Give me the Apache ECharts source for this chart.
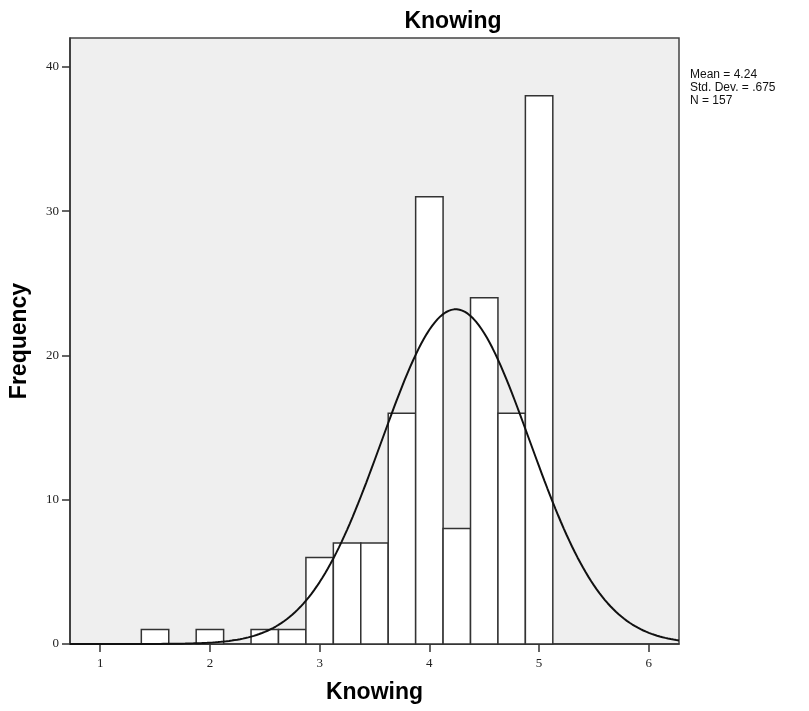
<!DOCTYPE html>
<html>
<head>
<meta charset="utf-8">
<script src="https://cdn.jsdelivr.net/npm/echarts@6/dist/echarts.min.js"></script>
<style>
  html, body { margin: 0; padding: 0; background: #fff; }
  #chart { width: 809px; height: 711px; }
</style>
</head>
<body>
<div id="chart"></div>
<script>
// histogram bins (centres) and their counts
const binCenters = [1.5, 2.0, 2.5, 2.75, 3.0, 3.25, 3.5, 3.75, 4.0, 4.25, 4.5, 4.75, 5.0];
const counts = [1, 1, 1, 1, 6, 7, 7, 16, 31, 8, 24, 16, 38];
const binWidth = 0.25;

// stats shown at the right
const mean = 4.24;
const sd = 0.675;
const n = 157;

const xTicks = [1, 2, 3, 4, 5, 6];
const yTicks = [0, 10, 20, 30, 40];

// fitted normal curve, scaled to frequency
const xMin = 0.725, xMax = 6.275;
const curve = [];
for (let x = xMin; x <= xMax + 1e-9; x += 0.025) {
  const z = (x - mean) / sd;
  curve.push([x, n * binWidth * Math.exp(-0.5 * z * z) / (sd * Math.sqrt(2 * Math.PI))]);
}

const chart = echarts.init(document.getElementById('chart'));
const labelFont = { color: '#222', fontSize: 13, fontFamily: 'Liberation Serif, serif' };
const nameFont = { color: '#000', fontSize: 23, fontWeight: 'bold', fontFamily: 'Liberation Sans, Arial, sans-serif' };

const option = {
  animation: false,
  title: {
    text: 'Knowing',
    left: 448,
    top: 5,
    textAlign: 'center',
    textStyle: nameFont
  },
  grid: {
    left: 69, right: 130, top: 38, bottom: 67,
    show: true,
    backgroundColor: '#efefef',
    borderColor: '#444',
    borderWidth: 1.5
  },
  xAxis: {
    type: 'value',
    min: xMin,
    max: xMax,
    name: 'Knowing',
    nameLocation: 'middle',
    nameGap: 37,
    nameTextStyle: nameFont,
    splitLine: { show: false },
    axisLine: { lineStyle: { color: '#333', width: 1.5 } },
    axisTick: { customValues: xTicks, length: 8, lineStyle: { color: '#333', width: 1.5 } },
    axisLabel: { customValues: xTicks, margin: 13, ...labelFont }
  },
  yAxis: {
    type: 'value',
    min: 0,
    max: 42,
    name: 'Frequency',
    nameLocation: 'middle',
    nameGap: 39,
    nameTextStyle: nameFont,
    splitLine: { show: false },
    axisLine: { show: true, lineStyle: { color: '#333', width: 1.5 } },
    axisTick: { show: true, customValues: yTicks, length: 8, lineStyle: { color: '#333', width: 1.5 } },
    axisLabel: { customValues: yTicks, margin: 11, ...labelFont }
  },
  graphic: [{
    type: 'text',
    left: 690,
    top: 68,
    style: {
      text: 'Mean = 4.24\nStd. Dev. = .675\nN = 157',
      font: '12px "Liberation Sans", Arial, sans-serif',
      lineHeight: 13,
      fill: '#111'
    }
  }],
  series: [
    {
      type: 'custom',
      data: binCenters.map((c, i) => [c, counts[i]]),
      renderItem: function (params, api) {
        const c = api.value(0);
        const topLeft = api.coord([c - binWidth / 2, api.value(1)]);
        const bottomRight = api.coord([c + binWidth / 2, 0]);
        return {
          type: 'rect',
          shape: {
            x: topLeft[0], y: topLeft[1],
            width: bottomRight[0] - topLeft[0],
            height: bottomRight[1] - topLeft[1]
          },
          style: { fill: '#fff', stroke: '#333', lineWidth: 1.5 }
        };
      },
      z: 2
    },
    {
      type: 'line',
      data: curve,
      showSymbol: false,
      smooth: false,
      clip: true,
      lineStyle: { color: '#111', width: 2 },
      z: 3
    }
  ]
};
option && chart.setOption(option);
</script>
</body>
</html>
